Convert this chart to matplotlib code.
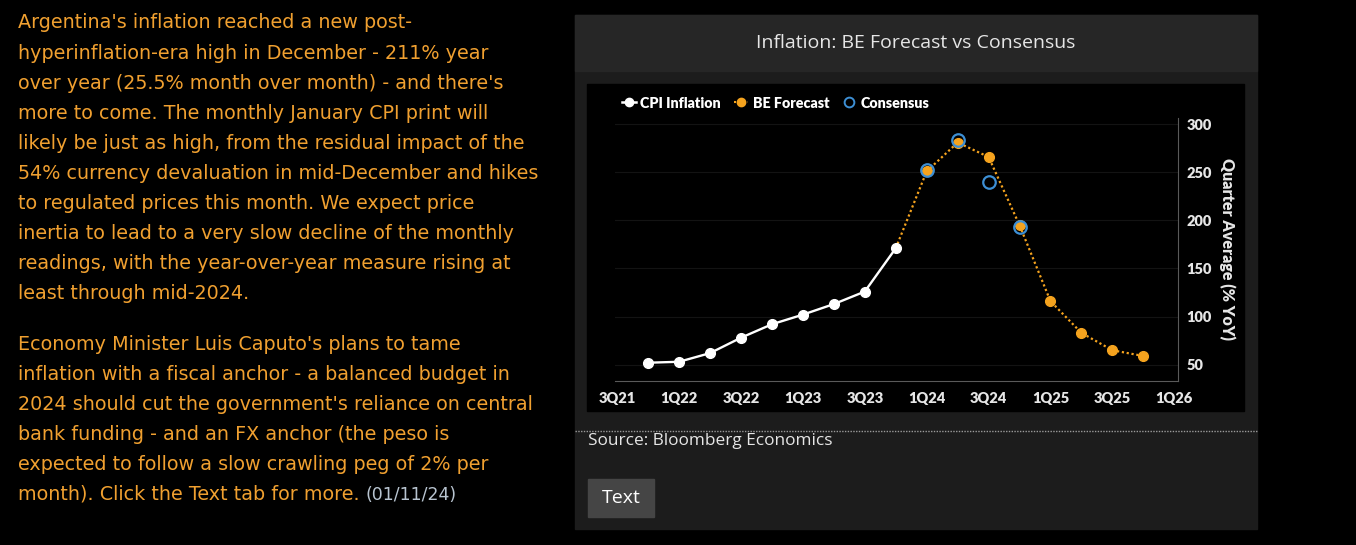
import matplotlib
matplotlib.use("Agg")
import matplotlib.pyplot as plt
from matplotlib.patches import Rectangle
from matplotlib.lines import Line2D

# quarter index: 0 = 3Q21 ... 18 = 1Q26
tick_labels = ['3Q21', '1Q22', '3Q22', '1Q23', '3Q23', '1Q24', '3Q24', '1Q25', '3Q25', '1Q26']
cpi_q = [1, 2, 3, 4, 5, 6, 7, 8, 9]
cpi_vals = [52, 53, 62, 78, 92, 102, 113, 126, 171]
fc_q = [10, 11, 12, 13, 14, 15, 16, 17]
fc_vals = [251, 281, 266, 195, 116, 83, 65, 59]
cons_q = [10, 11, 12, 13]
cons_vals = [252, 284, 240, 193]

para1 = ["Argentina's inflation reached a new post-",
         "hyperinflation-era high in December - 211% year",
         "over year (25.5% month over month) - and there's",
         "more to come. The monthly January CPI print will",
         "likely be just as high, from the residual impact of the",
         "54% currency devaluation in mid-December and hikes",
         "to regulated prices this month. We expect price",
         "inertia to lead to a very slow decline of the monthly",
         "readings, with the year-over-year measure rising at",
         "least through mid-2024."]
para2 = ["Economy Minister Luis Caputo's plans to tame",
         "inflation with a fiscal anchor - a balanced budget in",
         "2024 should cut the government's reliance on central",
         "bank funding - and an FX anchor (the peso is",
         "expected to follow a slow crawling peg of 2% per",
         "month). Click the Text tab for more."]
date_str = "(01/11/24)"

W, H = 1356, 545
ORANGE = '#f5a31e'
AMBER = '#f0a030'
BLUE = '#3d8fd4'
LIGHT = '#e6e6e6'


def fx(x):
    return x / W


def fy(y):
    return 1 - y / H


def box(x0, y0, x1, y1, color):
    fig.patches.append(Rectangle((fx(x0), fy(y1)), fx(x1 - x0), (y1 - y0) / H,
                                 transform=fig.transFigure, color=color, zorder=-10))


fig = plt.figure(figsize=(W / 100, H / 100), dpi=100, facecolor='black')

# panels
box(575, 15, 1257, 529, '#1c1c1c')
box(575, 15, 1257, 71, '#262626')
box(587, 84, 1244, 411, '#000000')
box(588, 479, 654, 517, '#454545')
fig.add_artist(Line2D([fx(575), fx(1257)], [fy(431), fy(431)], transform=fig.transFigure,
                      color='#9a9a9a', lw=1, ls=(0, (1, 1))))

fig.text(fx(916), fy(43), "Inflation: BE Forecast vs Consensus", color=LIGHT,
         fontsize=14, family='Open Sans', ha='center', va='center')
fig.text(fx(588), fy(441), "Source: Bloomberg Economics", color=LIGHT,
         fontsize=12.4, family='Open Sans', ha='left', va='center')
fig.text(fx(621), fy(498), "Text", color='white', fontsize=14, family='Open Sans',
         ha='center', va='center')

# left text
for i, line in enumerate(para1):
    fig.text(fx(18), fy(23 + 30.1 * i), line, color=AMBER, fontsize=13.8,
             family='DejaVu Sans', ha='left', va='center')
for i, line in enumerate(para2):
    t = fig.text(fx(18), fy(344 + 30.1 * i), line, color=AMBER, fontsize=13.8,
                 family='DejaVu Sans', ha='left', va='center')
fig.canvas.draw()
bb = t.get_window_extent()
fig.text(bb.x1 / W + fx(6), fy(344 + 30.1 * 5), date_str, color='#b8c4d0', fontsize=12.5,
         family='DejaVu Sans', ha='left', va='center')

# chart
ax = fig.add_axes([fx(615), fy(381), fx(1178 - 615), (381 - 118) / H])
ax.set_facecolor('black')
ax.set_xlim(-0.07, 18.12)
ax.set_ylim(33, 306.5)
ax.set_yticks([50, 100, 150, 200, 250, 300])
ax.set_xticks(range(0, 19, 2))
ax.set_xticklabels(tick_labels)
ax.grid(axis='y', color='#131313', lw=0.8)
ax.set_axisbelow(True)
for s in ['top', 'left']:
    ax.spines[s].set_visible(False)
for s in ['bottom', 'right']:
    ax.spines[s].set_color('#5a5a5a')
ax.yaxis.tick_right()
ax.yaxis.set_label_position('right')
ax.tick_params(axis='y', length=0, colors=LIGHT, labelsize=10.5, pad=6)
ax.tick_params(axis='x', length=0, colors=LIGHT, labelsize=10.5, pad=8)
for lab in ax.get_xticklabels() + ax.get_yticklabels():
    lab.set_fontweight('heavy')
    lab.set_family('Lato')
ax.set_ylabel("Quarter Average (% YoY)", rotation=270, labelpad=17, color=LIGHT,
              fontsize=11.5, fontweight='heavy', family='Lato')

ax.plot([cpi_q[-1]] + fc_q, [cpi_vals[-1]] + fc_vals, color=ORANGE, lw=1.6,
        ls=(0, (1, 1.2)), zorder=2)
ax.plot(fc_q, fc_vals, ls='none', marker='o', ms=7, color=ORANGE, zorder=3)
ax.plot(cpi_q, cpi_vals, color='white', lw=1.7, marker='o', ms=7, zorder=4)
ax.plot(cons_q, cons_vals, ls='none', marker='o', ms=9, mfc='none', mec=BLUE,
        mew=1.6, zorder=5)

handles = [Line2D([], [], color='white', lw=1.8, marker='o', ms=6),
           Line2D([], [], color=ORANGE, lw=1.5, ls=(0, (1, 1.2)), marker='o', ms=6),
           Line2D([], [], ls='none', marker='o', ms=7, mfc='none', mec=BLUE, mew=1.4)]
leg = fig.legend(handles, ['CPI Inflation', 'BE Forecast', 'Consensus'], loc='center left',
                 bbox_to_anchor=(fx(609), fy(103)), ncol=3, frameon=False,
                 handlelength=1.0, handletextpad=0.3, columnspacing=0.9,
                 prop={'family': 'Lato', 'weight': 'heavy', 'size': 10.3})
for txt in leg.get_texts():
    txt.set_color('white')

fig.savefig('out.png', dpi=100, facecolor='black')
